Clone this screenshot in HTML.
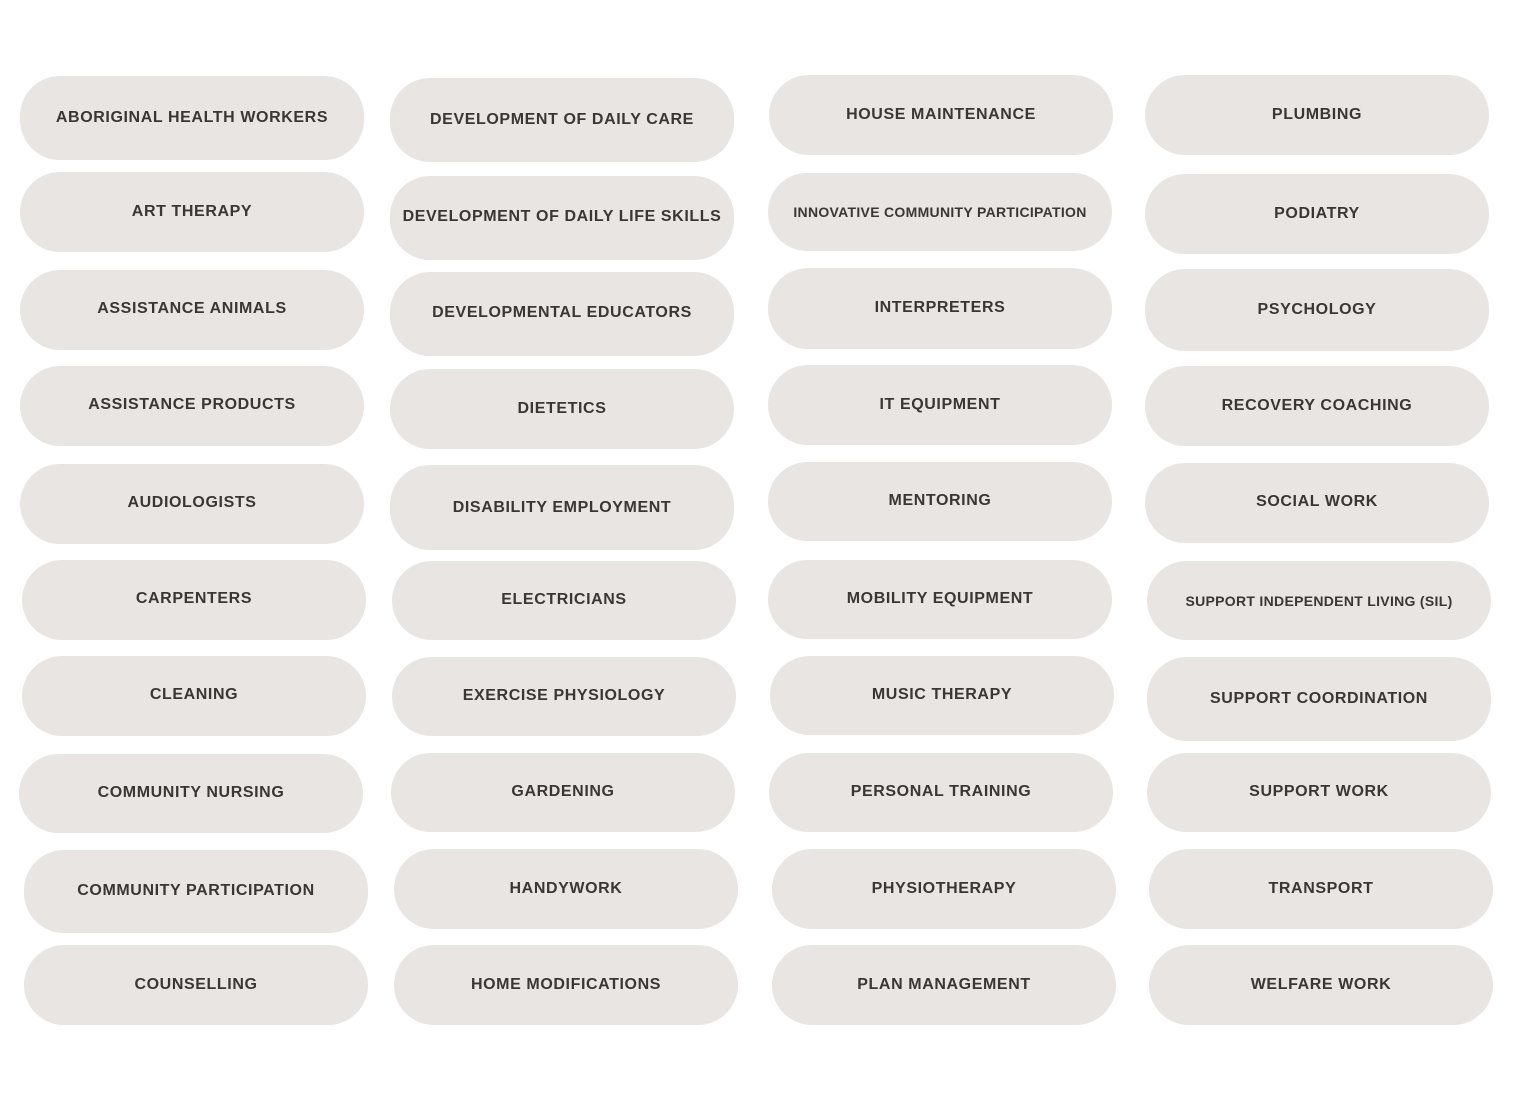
<!DOCTYPE html>
<html><head><meta charset="utf-8">
<style>
body{margin:0;width:1513px;height:1100px;background:#fff;position:relative;overflow:hidden;font-family:"Liberation Sans",sans-serif;}
.p{position:absolute;width:344px;background:#e8e5e2;border-radius:40px;}
.t{position:absolute;left:0;right:0;height:20px;line-height:20px;text-align:center;font-weight:bold;font-size:16px;letter-spacing:0.6px;color:#3a3634;white-space:nowrap;}
.s{font-size:14px;letter-spacing:0.3px;}
</style></head><body>
<div id="c"></div>
<script>
var d=[
[20,76,160,116,"ABORIGINAL HEALTH WORKERS"],
[20,172,252,210,"ART THERAPY"],
[20,270,350,307,"ASSISTANCE ANIMALS"],
[20,366,446,403,"ASSISTANCE PRODUCTS"],
[20,464,544,501,"AUDIOLOGISTS"],
[22,560,640,597,"CARPENTERS"],
[22,656,736,693,"CLEANING"],
[19,754,833,791,"COMMUNITY NURSING"],
[24,850,933,889,"COMMUNITY PARTICIPATION"],
[24,945,1025,983,"COUNSELLING"],
[390,78,162,118,"DEVELOPMENT OF DAILY CARE"],
[390,176,260,215,"DEVELOPMENT OF DAILY LIFE SKILLS"],
[390,272,356,311,"DEVELOPMENTAL EDUCATORS"],
[390,369,449,407,"DIETETICS"],
[390,465,550,506,"DISABILITY EMPLOYMENT"],
[392,561,640,598,"ELECTRICIANS"],
[392,657,736,694,"EXERCISE PHYSIOLOGY"],
[391,753,832,790,"GARDENING"],
[394,849,929,887,"HANDYWORK"],
[394,945,1025,983,"HOME MODIFICATIONS"],
[769,75,155,113,"HOUSE MAINTENANCE"],
[768,173,251,210,"INNOVATIVE COMMUNITY PARTICIPATION",1],
[768,268,349,306,"INTERPRETERS"],
[768,365,445,403,"IT EQUIPMENT"],
[768,462,541,499,"MENTORING"],
[768,560,639,597,"MOBILITY EQUIPMENT"],
[770,656,735,693,"MUSIC THERAPY"],
[769,753,832,790,"PERSONAL TRAINING"],
[772,849,929,887,"PHYSIOTHERAPY"],
[772,945,1025,983,"PLAN MANAGEMENT"],
[1145,75,155,113,"PLUMBING"],
[1145,174,254,212,"PODIATRY"],
[1145,269,351,308,"PSYCHOLOGY"],
[1145,366,446,404,"RECOVERY COACHING"],
[1145,463,543,500,"SOCIAL WORK"],
[1147,561,640,599,"SUPPORT INDEPENDENT LIVING (SIL)",1],
[1147,657,741,697,"SUPPORT COORDINATION"],
[1147,753,832,790,"SUPPORT WORK"],
[1149,849,929,887,"TRANSPORT"],
[1149,945,1025,983,"WELFARE WORK"]
];
var h="";
d.forEach(function(a){
h+='<div class="p" style="left:'+a[0]+'px;top:'+a[1]+'px;height:'+(a[2]-a[1])+'px"><div class="t'+(a[5]?' s':'')+'" style="top:'+(a[3]-a[1]-8)+'px">'+a[4]+'</div></div>';
});
document.getElementById("c").innerHTML=h;
</script>
</body></html>
